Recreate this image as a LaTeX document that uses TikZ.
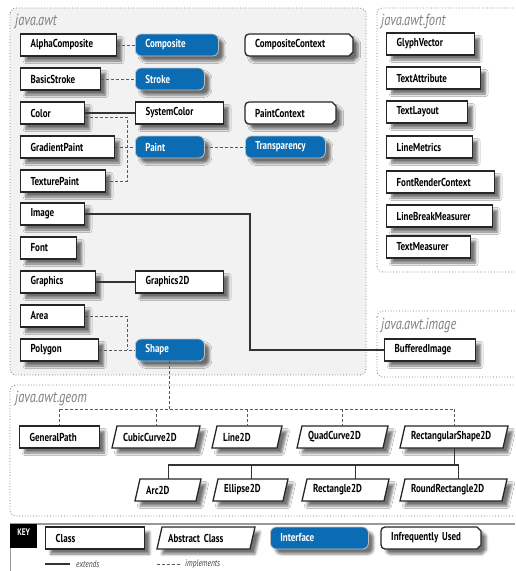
\documentclass[tikz,border=0pt]{standalone}
\usepackage{fontspec}
\setmainfont{PT Sans}[FakeStretch=0.78]
\usetikzlibrary{shadows.blur}
\definecolor{ifblue}{HTML}{0B6CB4}
\definecolor{panelgray}{HTML}{F2F2F2}
\definecolor{labelgray}{HTML}{808080}
\definecolor{linegray}{HTML}{333333}
\tikzset{
  shad/.style={blur shadow={shadow xshift=5pt, shadow yshift=-5pt, shadow blur radius=2.5pt, shadow opacity=55}},
  boxbase/.style={anchor=west, minimum height=22pt, inner xsep=10pt, inner ysep=0pt, font=\bfseries\fontsize{11.5}{13}\selectfont, align=left},
  cls/.style={boxbase, draw=black!85, line width=1.3pt, fill=white, shad},
  ifc/.style={boxbase, draw=black!25, line width=0.8pt, fill=ifblue, text=white, rounded corners=6pt, shad},
  absnode/.style={boxbase, inner xsep=11pt},
  absshape/.style={draw=black!85, line width=1.3pt, fill=white, shad, line join=miter},
  infnode/.style={boxbase},
  infshape/.style={draw=black!85, line width=1.3pt, fill=white, shad},
  ext/.style={draw=linegray, line width=1.4pt},
  impl/.style={draw=black!65, line width=0.9pt, dash pattern=on 3pt off 2pt},
  panel/.style={draw=black!55, line width=0.8pt, dotted, rounded corners=6pt},
  plabel/.style={anchor=base west, text=labelgray, font=\itshape\fontsize{16}{17}\selectfont, inner sep=0pt},
  legend/.style={anchor=west, font=\itshape\fontsize{9.5}{10}\selectfont, text=black!75, inner sep=0pt},
}
\newcommand\clsbox[5]{\pgfmathsetmacro\bxw{#4-20}\node[cls,text width=\bxw pt] (#1) at (#2,#3) {\mbox{#5}};}
\newcommand\ifcbox[5]{\pgfmathsetmacro\bxw{#4-20}\node[ifc,text width=\bxw pt] (#1) at (#2,#3) {\mbox{#5}};}
\newcommand\absbox[5]{\pgfmathsetmacro\bxw{#4-22}%
  \path[absshape] (#2,#3+11) -- (#2+5,#3-11) -- (#2+#4,#3-11) -- (#2+#4-5,#3+11) -- cycle;
  \node[absnode,text width=\bxw pt] (#1) at (#2,#3) {\mbox{#5}};}
\newcommand\infbox[5]{\pgfmathsetmacro\bxw{#4-20}%
  \path[infshape] (#2+#4-4,#3-11) [rounded corners=4pt] -- (#2,#3-11) -- (#2,#3+11) [sharp corners] -- (#2+#4-4,#3+11) -- (#2+#4,#3+7) -- (#2+#4,#3-7) -- cycle;
  \node[infnode,text width=\bxw pt] (#1) at (#2,#3) {\mbox{#5}};}
\begin{document}
\begin{tikzpicture}[x=1pt,y=-1pt]
\useasboundingbox (0,0) rectangle (515,571);
\clip (0,0) rectangle (515,571);
% panels
\draw[panel, fill=panelgray] (10,8) rectangle (366,375);
\draw[panel, fill=white] (377,8) rectangle (545,272);
\draw[panel, fill=white] (377,311) rectangle (545,377);
\draw[panel, fill=white] (10,385) rectangle (545,516);
\node[plabel] (lawt) at (15,25) {java.awt};
\node[plabel] (lfont) at (381,25) {java.awt.font};
\node[plabel] (limage) at (381,329) {java.awt.image};
\node[plabel] (lgeom) at (15,402) {java.awt.geom};
% java.awt
\clsbox{alpha}{20}{45}{96}{AlphaComposite}
\ifcbox{composite}{135}{45}{83}{Composite}
\infbox{compctx}{245}{45}{108}{CompositeContext}
\clsbox{basic}{20}{79}{80}{BasicStroke}
\ifcbox{stroke}{135}{79}{69}{Stroke}
\clsbox{color}{20}{113}{64}{Color}
\clsbox{syscolor}{135}{113}{88}{SystemColor}
\infbox{paintctx}{245}{113}{91}{PaintContext}
\clsbox{gradient}{20}{147}{94}{GradientPaint}
\ifcbox{paint}{135}{147}{69}{Paint}
\ifcbox{transp}{245}{147}{80}{Transparency}
\clsbox{texture}{20}{181}{85}{TexturePaint}
\clsbox{image}{20}{214}{64}{Image}
\clsbox{font}{20}{248}{56}{Font}
\clsbox{graphics}{20}{282}{75}{Graphics}
\clsbox{gtwod}{135}{282}{88}{Graphics2D}
\clsbox{area}{20}{316}{64}{Area}
\clsbox{polygon}{20}{350}{78}{Polygon}
\ifcbox{shape}{135}{350}{69}{Shape}
% java.awt.font
\clsbox{glyph}{386}{44}{88}{GlyphVector}
\clsbox{textattr}{386}{78}{94}{TextAttribute}
\clsbox{textlayout}{386}{112}{81}{TextLayout}
\clsbox{linemetrics}{386}{147}{86}{LineMetrics}
\clsbox{frc}{386}{182}{108}{FontRenderContext}
\clsbox{lbm}{386}{216}{106}{LineBreakMeasurer}
\clsbox{textmeas}{386}{247}{84}{TextMeasurer}
% java.awt.image
\clsbox{bufimg}{384}{350}{91}{BufferedImage}
% java.awt.geom
\clsbox{gpath}{19}{437}{80}{GeneralPath}
\absbox{cubic}{112}{437}{88}{CubicCurve2D}
\absbox{line}{212}{437}{70}{Line2D}
\absbox{quad}{297}{437}{91}{QuadCurve2D}
\absbox{rshape}{400}{437}{108}{RectangularShape2D}
\absbox{arc}{135}{490}{66}{Arc2D}
\absbox{ellipse}{213}{490}{75}{Ellipse2D}
\absbox{rect}{302}{490}{87}{Rectangle2D}
\absbox{rrect}{400}{490}{107}{RoundRectangle2D}
% connectors java.awt
\coordinate (pbus) at (127,0);
\coordinate (ibus) at (250,0);
\draw[impl] (alpha.east) -- (composite.west);
\draw[impl] (basic.east) -- (stroke.west);
\draw[ext] (color.east) -- (syscolor.west);
\draw[impl] ([yshift=-4pt]color.east) -| (pbus |- texture.east) -- (texture.east);
\draw[impl] (gradient.east) -- (paint.west);
\draw[impl] (paint.east) -- (transp.west);
\draw[ext] (image.east) -| (ibus |- bufimg.west) -- (bufimg.west);
\draw[ext] (graphics.east) -- (gtwod.west);
\draw[impl] (area.east) -| (pbus |- shape.west);
\draw[impl] (polygon.east) -- (shape.west);
% connectors geom
\coordinate (gbus) at (0,409);
\coordinate (sbus) at (0,465);
\draw[impl] (shape.south) -- (shape.south |- gbus);
\draw[impl] (gpath.north |- gbus) -- (rshape.north |- gbus);
\foreach \n in {gpath,cubic,line,quad,rshape} \draw[impl] (\n.north |- gbus) -- (\n.north);
\draw[ext] (rshape.south) -- (rshape.south |- sbus);
\path ([xshift=10pt]rect.north) coordinate (recttop);
\path ([xshift=5pt]rrect.north) coordinate (rrtop);
\path ([xshift=1pt]ellipse.north) coordinate (eltop);
\draw[ext] (arc.north |- sbus) -- (rrtop |- sbus);
\draw[ext] (arc.north |- sbus) -- (arc.north);
\draw[ext] (eltop |- sbus) -- (eltop);
\draw[ext] (recttop |- sbus) -- (recttop);
\draw[ext] (rrtop |- sbus) -- (rrtop);
% key
\draw[draw=black!40, line width=1.5pt] (10,524) -- (515,524);
\draw[draw=black!40, line width=0.8pt] (10,524) -- (10,571);
\node[fill=black, text=white, font=\bfseries\fontsize{9.5}{10}\selectfont, minimum width=27pt, minimum height=24pt, text depth=8pt, inner sep=0pt, anchor=north west] (key) at (10,524) {KEY};
\clsbox{kclass}{45}{538}{99}{Class}
\absbox{kabs}{157}{538}{98}{Abstract Class}
\ifcbox{kif}{270}{538}{98}{Interface}
\infbox{kinf}{381}{538}{100}{Infrequently Used}
\coordinate (ea) at (45,564);
\coordinate (eb) at (70,564);
\coordinate (ia) at (157,564);
\coordinate (ib) at (180,564);
\draw[ext] (ea) -- (eb);
\draw[impl] (ia) -- (ib);
\node[legend] (lext) at (76,564) {extends};
\node[legend] (limpl) at (185,564) {implements};
\end{tikzpicture}
\end{document}
